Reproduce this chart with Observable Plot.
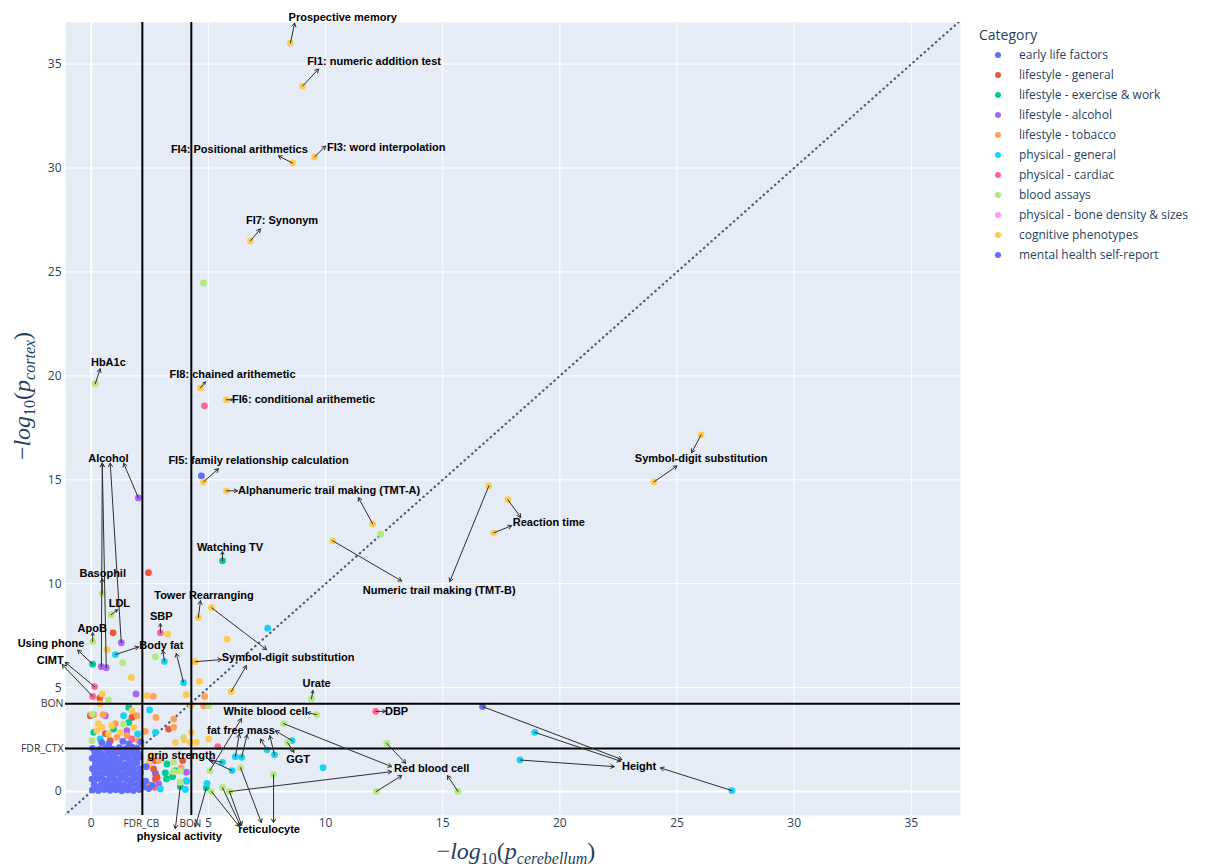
<!DOCTYPE html>
<html><head><meta charset="utf-8">
<script src="https://cdn.jsdelivr.net/npm/d3@7"></script>
<script src="https://cdn.jsdelivr.net/npm/@observablehq/plot@0.6"></script>
<style>
body{margin:0;background:#fff;}
#wrap{position:relative;width:1216px;height:867px;}
#legend{position:absolute;left:0;top:0;font-family:"Open Sans",sans-serif;color:#2a3f5f;}
.ltitle{position:absolute;left:979px;top:25px;font-size:14px;line-height:20px;white-space:nowrap;}
.lrow{position:absolute;left:1019px;font-size:12px;line-height:20px;white-space:nowrap;}
.ldot{position:absolute;width:6px;height:6px;border-radius:50%;}
</style></head><body><div id="wrap"></div>
<script>
const categories = ["early life factors","lifestyle - general","lifestyle - exercise & work","lifestyle - alcohol","lifestyle - tobacco","physical - general","physical - cardiac","blood assays","physical - bone density & sizes","cognitive phenotypes","mental health self-report"];
const palette = ["#636efa","#EF553B","#00cc96","#ab63fa","#FFA15A","#19d3f3","#FF6692","#B6E880","#FF97FF","#FECB52","#636efa"];

// [ -log10 p_cerebellum, -log10 p_cortex ]
const earlyLife = [[4.70,15.19],[16.70,4.09],[2.74,0.87],[0.9,1.0]];
const lifestyleGeneral = [[2.44,10.53],[0.93,7.64],[0.36,4.50],[-0.04,3.65],[0.60,2.79],[1.74,3.57],[0.81,2.45],[3.30,3.01],[2.66,1.09],[2.81,0.69],[2.74,1.49],[2.74,0.61],[3.90,1.49],[1.1,1.9],[0.35,1.5],[1.9,0.9]];
const exerciseWork = [[5.60,11.11],[0.06,6.13],[1.60,4.05],[1.60,3.33],[0.10,2.85],[0.95,3.01],[3.23,1.33],[3.59,1.01],[3.21,0.61],[3.80,0.24],[3.16,0.90],[3.47,0.72],[4.91,0.18],[2.09,0.53],[1.3,0.7]];
const alcohol = [[2.01,14.13],[0.43,6.01],[0.64,5.96],[1.28,7.16],[1.91,4.70],[0.60,3.65],[1.52,2.93],[4.06,0.93],[2.88,0.37],[4.06,0.50],[0.5,1.7]];
const tobacco = [[0.10,3.70],[0.51,3.70],[1.03,3.27],[1.95,3.65],[1.52,2.69],[1.10,2.61],[2.02,2.45],[2.65,4.58],[4.84,4.58],[4.80,4.13],[3.52,3.49],[3.52,3.09],[2.76,3.57],[2.88,1.49],[2.41,0.37],[3.83,1.14],[0.4,1.2],[1.4,0.5],[2.3,2.9]];
const physicalGeneral = [[7.53,7.86],[3.12,6.26],[3.94,5.24],[1.03,6.59],[1.38,3.65],[0.38,2.53],[1.98,2.77],[2.49,3.93],[2.74,2.85],[4.06,0.53],[2.95,0.13],[4.94,0.40],[9.89,1.15],[5.60,1.41],[6.01,1.01],[6.15,1.68],[6.42,1.65],[7.50,2.01],[7.82,1.77],[8.57,2.45],[18.93,2.85],[18.30,1.52],[27.34,0.05],[4.02,0.10],[1.6,1.1]];
const cardiac = [[4.83,18.56],[2.95,7.64],[0.14,5.05],[0.06,4.58],[12.14,3.86],[1.74,2.53],[5.40,2.16],[2.52,1.49],[1.74,1.89],[2.70,0.20],[0.7,0.3]];
const bloodAssays = [[4.79,24.47],[0.17,19.62],[0.47,9.52],[0.85,8.51],[0.06,7.22],[1.34,6.2],[2.74,6.49],[12.35,12.40],[9.40,4.47],[9.62,3.70],[5.06,1.01],[8.21,3.27],[12.61,2.32],[12.17,0.01],[15.65,0.01],[8.38,2.36],[5.13,0.0],[5.60,0.19],[5.90,0.0],[6.37,1.15],[7.78,0.82],[0.03,3.73],[1.38,3.25],[0.03,2.45],[3.52,1.41],[3.80,0.98],[5.01,4.13],[3.94,2.61],[3.52,0.96],[0.74,4.41],[3.80,0.45]];
const boneDensity = [[0.8,1.4],[1.5,0.9]];
const cognitive = [[8.50,36.01],[9.02,33.94],[9.53,30.53],[8.59,30.24],[6.79,26.49],[4.66,19.42],[5.77,18.85],[4.79,14.90],[5.77,14.47],[12.01,12.88],[10.30,12.07],[16.97,14.71],[17.78,14.04],[17.18,12.45],[26.03,17.16],[24.02,14.90],[4.57,8.37],[5.13,8.85],[4.44,6.25],[5.98,4.82],[3.26,7.57],[0.67,6.83],[1.71,5.49],[5.80,7.33],[4.62,5.30],[4.05,4.66],[2.38,4.62],[0.46,4.70],[0.38,4.22],[0.31,3.27],[0.46,3.09],[0.88,3.17],[1.24,2.85],[1.74,3.89],[1.81,3.09],[0.24,2.93],[0.74,2.77],[3.59,2.37],[3.97,2.49],[4.26,4.13],[4.49,2.37],[4.23,2.37],[4.27,2.85],[2.59,1.73],[2.45,1.33],[0.81,1.25],[1.58,1.25],[1.37,0.67],[5.01,2.53],[0.25,0.9],[1.9,1.5]];
const mentalHealth = [
[0.05,0.08],[0.30,0.05],[0.55,0.10],[0.80,0.06],[1.05,0.09],[1.30,0.04],[1.55,0.08],[1.80,0.05],[2.05,0.10],[2.22,0.22],
[0.12,0.35],[0.40,0.30],[0.65,0.38],[0.92,0.33],[1.18,0.36],[1.42,0.31],[1.68,0.37],[1.93,0.34],[2.12,0.42],
[0.03,0.60],[0.28,0.62],[0.52,0.57],[0.78,0.63],[1.02,0.58],[1.27,0.64],[1.53,0.59],[1.78,0.61],[2.00,0.66],
[0.15,0.87],[0.40,0.84],[0.66,0.90],[0.90,0.85],[1.15,0.88],[1.40,0.83],[1.65,0.89],[1.90,0.86],[2.10,0.92],
[0.05,1.10],[0.30,1.13],[0.55,1.08],[0.80,1.14],[1.05,1.09],[1.30,1.12],[1.56,1.07],[1.80,1.13],[2.06,1.10],
[0.18,1.37],[0.43,1.33],[0.68,1.39],[0.93,1.34],[1.20,1.38],[1.45,1.32],[1.70,1.36],[1.95,1.40],
[0.04,1.60],[0.30,1.63],[0.56,1.58],[0.82,1.62],[1.07,1.59],[1.33,1.64],[1.58,1.61],[1.85,1.57],[2.08,1.66],
[0.15,1.86],[0.42,1.83],[0.70,1.88],[0.98,1.84],[1.25,1.90],[1.50,1.85],[1.78,1.89],[2.02,1.82],
[0.05,2.08],[0.35,2.03],[0.62,2.10],[0.90,2.04],[1.20,2.12],[1.48,2.05],[1.72,2.15],[1.95,2.10],
[2.32,0.50],[2.45,0.15],[2.35,1.20],[2.12,2.38],[1.60,2.30],[0.75,2.30],[1.35,2.42],[2.60,0.30],[0.45,2.35],
[0.18,0.20],[0.68,0.22],[1.17,0.18],[1.66,0.21],[0.42,0.72],[0.92,0.74],[1.42,0.70],[1.90,0.73],
[0.18,1.24],[0.68,1.22],[1.17,1.25],[1.68,1.23],[0.42,1.74],[0.94,1.75],[1.44,1.73],[1.96,1.72]];
const seriesByCategory = [earlyLife,lifestyleGeneral,exerciseWork,alcohol,tobacco,physicalGeneral,cardiac,bloodAssays,boneDensity,cognitive,mentalHealth];

// annotation labels
const labelText = ["Prospective memory","FI1: numeric addition test","FI3: word interpolation","FI4: Positional arithmetics","FI7: Synonym","HbA1c","FI8: chained arithemetic","FI6: conditional arithemetic","Alcohol","FI5: family relationship calculation","Alphanumeric trail making (TMT-A)","Numeric trail making (TMT-B)","Reaction time","Symbol-digit substitution","Watching TV","Basophil","Tower Rearranging","Symbol-digit substitution","SBP","Body fat","LDL","ApoB","Using phone","CIMT","Urate","White blood cell","fat free mass","GGT","grip strength","physical activity","reticulocyte","Red blood cell","DBP","Height"];
const labelX = [10.73,12.07,12.59,6.32,8.14,0.73,6.03,9.06,0.73,7.14,10.15,14.85,19.53,26.03,5.92,0.49,4.81,8.40,2.99,2.99,1.20,0.04,-1.72,-1.75,9.62,7.44,6.39,8.83,3.85,3.76,7.59,14.53,13.03,23.38];
const labelY = [37.26,35.14,31.01,30.91,27.50,20.63,20.05,18.85,16.01,15.91,14.47,9.66,12.93,16.01,11.73,10.48,9.42,6.44,8.41,7.02,9.04,7.86,7.13,6.30,5.22,3.85,2.93,1.54,1.73,-2.14,-1.83,1.11,3.86,1.20];

// annotation arrows: from point -> arrow head near label
const arrowFrom = [[8.50,36.01],[9.02,33.94],[9.53,30.53],[8.59,30.24],[6.79,26.49],[0.17,19.62],[4.66,19.42],[5.77,18.85],
[2.01,14.13],[0.43,6.01],[0.64,5.96],[1.28,7.16],[4.79,14.90],[5.77,14.47],[12.01,12.88],[10.30,12.07],[16.97,14.71],
[17.78,14.04],[17.18,12.45],[26.03,17.16],[24.02,14.90],[5.60,11.11],[0.47,9.52],[4.57,8.37],[5.13,8.85],[4.44,6.25],[5.98,4.82],
[2.95,7.64],[3.12,6.26],[3.94,5.24],[1.03,6.59],[0.85,8.51],[0.06,7.22],[0.06,6.13],[0.14,5.05],[0.06,4.58],[9.40,4.47],
[9.62,3.70],[5.06,1.01],[6.15,1.68],[6.42,1.65],[7.50,2.01],[7.82,1.77],[8.57,2.45],[8.38,2.36],[5.60,1.41],[6.01,1.01],
[3.80,0.24],[4.91,0.18],[5.13,0.0],[5.60,0.19],[5.90,0.0],[6.37,1.15],[7.78,0.82],
[8.21,3.27],[5.90,0.0],[12.61,2.32],[12.17,0.01],[15.65,0.01],[12.14,3.86],[16.70,4.09],[18.93,2.85],[18.30,1.52],[27.34,0.05]];
const arrowTo = [[8.68,36.97],[9.70,34.76],[10.00,31.06],[7.99,30.58],[7.22,27.07],[0.38,20.34],[4.87,19.71],[6.03,18.85],
[1.38,15.80],[0.47,15.80],[0.47,15.80],[0.81,15.80],[5.43,15.53],[6.24,14.47],[11.40,14.15],[13.25,10.13],[15.30,10.10],
[18.33,13.19],[17.94,12.79],[25.62,16.30],[25.00,15.67],[5.60,11.54],[0.47,10.24],[4.66,9.18],[7.48,6.83],[5.56,6.35],[6.62,6.06],
[2.95,8.08],[3.06,6.78],[3.63,6.65],[2.02,6.96],[1.12,8.75],[0.06,7.64],[-0.58,6.81],[-1.11,6.22],[-1.24,6.11],[9.46,4.86],
[9.23,3.80],[6.41,3.51],[6.32,2.77],[6.65,2.74],[7.22,2.53],[7.62,2.69],[7.86,2.93],[8.65,1.89],[5.00,1.54],[5.09,1.49],
[3.59,-1.78],[4.44,-1.70],[6.32,-1.68],[6.37,-1.65],[6.42,-1.62],[7.26,-1.49],[7.78,-1.49],
[12.82,1.20],[12.82,0.96],[13.42,1.36],[13.25,0.77],[15.20,0.77],[12.56,3.86],[22.65,1.54],[22.60,1.46],[22.32,1.20],[24.29,1.14]];

// significance thresholds
const vLineValues = [2.18, 4.27];
const vLineLabels = ["FDR_CB","BON"];
const hLineValues = [4.23, 2.07];
const hLineLabels = ["BON","FDR_CTX"];

const xDomain = [-1.1, 37.1];
const yDomain = [-1.15, 37.0];
const tickValues = [0,5,10,15,20,25,30,35];

const points = categories.flatMap((c,i) => seriesByCategory[i].map(([x,y]) => ({x, y, cat: c})));
const labels = labelText.map((t,i) => ({t, x: labelX[i], y: labelY[i]}));
const arrows = arrowFrom.map((f,i) => ({x1: f[0], y1: f[1], x2: arrowTo[i][0], y2: arrowTo[i][1]}));
const diag = [Math.min(xDomain[0], yDomain[0]), Math.max(xDomain[1], yDomain[1])].map(v => ({x: v, y: v}));
const gridTicks = tickValues.filter(t => t !== 0);

const svg = Plot.plot({
  width: 1216, height: 867,
  marginLeft: 65, marginRight: 256, marginTop: 22, marginBottom: 52,
  x: {domain: xDomain, label: null},
  y: {domain: yDomain, label: null},
  color: {domain: categories, range: palette},
  style: {fontFamily: "'Open Sans', sans-serif", fontSize: "12px", background: "white", overflow: "visible"},
  marks: [
    Plot.frame({fill: "#E5ECF6", stroke: null}),
    Plot.ruleX(gridTicks, {stroke: "white", strokeWidth: 1}),
    Plot.ruleY(gridTicks, {stroke: "white", strokeWidth: 1}),
    Plot.ruleX([0], {stroke: "white", strokeWidth: 2}),
    Plot.ruleY([0], {stroke: "white", strokeWidth: 2}),
    Plot.axisX({ticks: tickValues, tickSize: 0, tickPadding: 3, fontSize: 12, color: "#2a3f5f", label: null}),
    Plot.axisY({ticks: tickValues, tickSize: 0, tickPadding: 4, fontSize: 12, color: "#2a3f5f", label: null}),
    Plot.line(diag, {x: "x", y: "y", stroke: "#465a78", strokeWidth: 2.2, strokeDasharray: "0.5,4.5", strokeLinecap: "round", clip: true}),
    Plot.dot(points, {x: "x", y: "y", fill: "cat", r: 3.4}),
    Plot.ruleX(vLineValues, {stroke: "black", strokeWidth: 2}),
    Plot.ruleY(hLineValues, {stroke: "black", strokeWidth: 2}),
    Plot.text(vLineValues, {x: d => d, y: yDomain[0], text: (d,i) => vLineLabels[i], dy: 8, dx: -1, fontSize: 10, fill: "#333", fontFamily: "'Open Sans', sans-serif"}),
    Plot.text(hLineValues, {x: xDomain[0], y: d => d, text: (d,i) => hLineLabels[i], dx: -2, textAnchor: "end", fontSize: 10.5, fill: "#333", fontFamily: "'Open Sans', sans-serif"}),
    Plot.arrow(arrows, {x1: "x1", y1: "y1", x2: "x2", y2: "y2", stroke: "#2e2e2e", strokeWidth: 1, headLength: 6, bend: 0}),
    Plot.text(labels, {x: "x", y: "y", text: "t", fontSize: 11, fontWeight: "bold", fill: "black", fontFamily: "'Liberation Sans', Arial, sans-serif"})
  ]
});

// axis titles (math-style)
const s = d3.select(svg);
function mathTitle(g, base, sub) {
  g.attr("font-family", "'Liberation Serif','DejaVu Serif',serif").attr("font-size", 24).attr("fill", "#2a3f5f").attr("text-anchor", "middle");
  g.append("tspan").text("\u2212");
  g.append("tspan").attr("font-style", "italic").text("log");
  g.append("tspan").attr("font-size", 16).attr("dy", 5).text("10");
  g.append("tspan").attr("dy", -5).text("(");
  g.append("tspan").attr("font-style", "italic").text(base);
  g.append("tspan").attr("font-style", "italic").attr("font-size", 16).attr("dy", 5).text(sub);
  g.append("tspan").attr("dy", -5).text(")");
}
mathTitle(s.append("text").attr("x", 516).attr("y", 859), "p", "cerebellum");
mathTitle(s.append("text").attr("transform", "translate(30,396) rotate(-90)"), "p", "cortex");

const wrap = document.getElementById("wrap");
wrap.appendChild(svg);

// legend
const leg = document.createElement("div");
leg.id = "legend";
let html = `<div class="ltitle">Category</div>`;
categories.forEach((c,i) => {
  const cy = 55 + i*20;
  html += `<div class="ldot" style="left:995px;top:${cy-3}px;background:${palette[i]}"></div>`;
  html += `<div class="lrow" style="top:${cy-10}px">${c.replace("&","&amp;")}</div>`;
});
leg.innerHTML = html;
wrap.appendChild(leg);
</script>
</body></html>
